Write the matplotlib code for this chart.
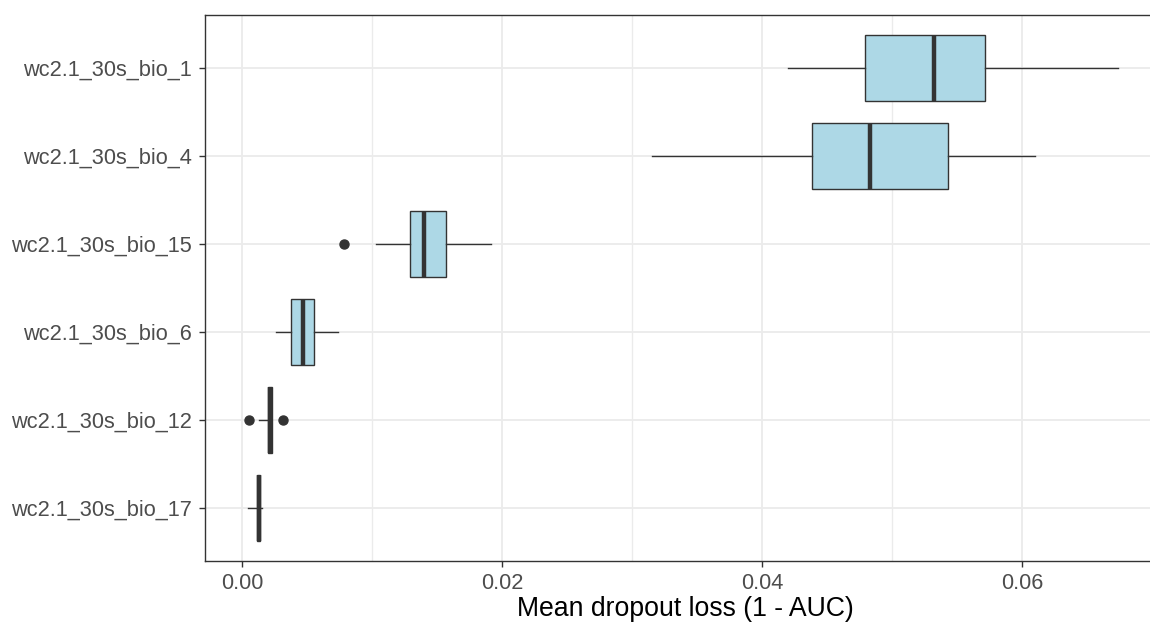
import matplotlib
matplotlib.use("Agg")
import matplotlib.pyplot as plt
import numpy as np

plt.rcParams['font.family'] = ['Liberation Sans', 'DejaVu Sans']

# top-to-bottom order
variables = ["wc2.1_30s_bio_1", "wc2.1_30s_bio_4", "wc2.1_30s_bio_15",
             "wc2.1_30s_bio_6", "wc2.1_30s_bio_12", "wc2.1_30s_bio_17"]
whisker_low = [0.04203, 0.03151, 0.01028, 0.00259, 0.00133, 0.00046]
q1 = [0.04796, 0.04386, 0.01292, 0.00377, 0.00201, 0.00113]
median = [0.05326, 0.04834, 0.01398, 0.00469, 0.00216, 0.00127]
q3 = [0.05714, 0.05428, 0.01567, 0.00556, 0.00231, 0.00141]
whisker_high = [0.06738, 0.06097, 0.01915, 0.00736, 0.00231, 0.00154]
outliers = [[], [], [0.00787], [], [0.00056, 0.00318], []]

x_ticks = [0.00, 0.02, 0.04, 0.06]
x_minor = [0.01, 0.03, 0.05]
x_label = "Mean dropout loss (1 - AUC)"

W, H = 1150, 626
fig = plt.figure(figsize=(W / 100, H / 100), dpi=100)
ax = fig.add_axes([205 / W, 65.3 / H, (1165 - 205) / W, 545.7 / H])

n = len(variables)
positions = [n - i for i in range(n)]
stats = []
for i in range(n):
    stats.append(dict(whislo=whisker_low[i], q1=q1[i], med=median[i], q3=q3[i],
                      whishi=whisker_high[i], fliers=outliers[i], label=variables[i]))

edge = "#333333"
ax.bxp(stats, positions=positions, vert=False, widths=0.75, patch_artist=True,
       showcaps=False,
       boxprops=dict(facecolor="#ADD8E6", edgecolor=edge, linewidth=1.0),
       whiskerprops=dict(color=edge, linewidth=1.0),
       medianprops=dict(color=edge, linewidth=3.2, solid_capstyle='butt'),
       flierprops=dict(marker='o', markerfacecolor=edge, markeredgecolor=edge,
                       markersize=6.5, linestyle='none'),
       zorder=3)

ax.set_xlim(-0.002846, 0.0710)
ax.set_ylim(0.4, n + 0.6)

ax.set_xticks(x_ticks)
ax.set_xticklabels([f"{v:.2f}" for v in x_ticks])
ax.set_xticks(x_minor, minor=True)
ax.set_yticks(positions)
ax.set_yticklabels(variables)

ax.set_axisbelow(True)
ax.grid(which='major', axis='both', color='#EBEBEB', linewidth=1.3)
ax.grid(which='minor', axis='x', color='#EBEBEB', linewidth=1.0)

for s in ax.spines.values():
    s.set_color('#333333')
    s.set_linewidth(1.0)

ax.tick_params(axis='both', which='major', length=4.3, width=1.0, color='#333333',
               labelcolor='#4D4D4D', labelsize=15.7)
ax.tick_params(axis='x', which='major', pad=4.3)
ax.tick_params(axis='y', which='major', pad=5)
ax.tick_params(axis='x', which='minor', length=0)

ax.set_xlabel(x_label, fontsize=19.2, color='black', labelpad=2)

fig.savefig("out.png", dpi=100)
